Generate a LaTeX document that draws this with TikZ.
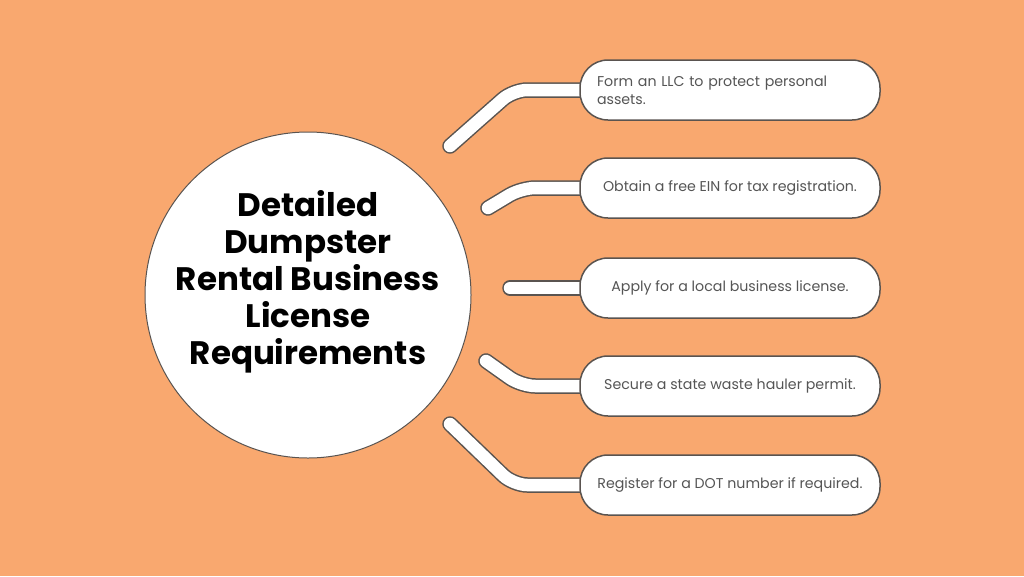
\documentclass[tikz,border=0pt]{standalone}
\usepackage{fontspec}
\setmainfont{Poppins}
\usetikzlibrary{positioning,backgrounds}
\definecolor{bgorange}{HTML}{F9A86F}
\definecolor{edgegray}{HTML}{5A5450}
\definecolor{txtgray}{HTML}{555555}
\begin{document}
\begin{tikzpicture}[x=1pt,y=-1pt,
	pill/.style={draw=edgegray,line width=1.5pt,fill=white,rounded corners=28pt,minimum width=300pt,minimum height=60pt,inner sep=0pt,text=txtgray,font=\fontsize{14.2}{18}\selectfont},
	link/.style={draw=edgegray,line width=1.5pt,double=white,double distance=12.5pt,line cap=round,rounded corners=14pt}]
	\useasboundingbox (0,0) rectangle (1024,576);
	\node[circle,draw=edgegray,line width=1pt,fill=white,minimum size=326pt] (hub) at (308,295) {};
	\node[align=center,font=\fontsize{32.5}{37}\selectfont\bfseries] (title) at ([yshift=13pt]hub.center) {Detailed\\Dumpster\\Rental Business\\License\\Requirements};
	\node[pill,text width=266pt,align=left] (llc) at (730,90) {Form an LLC to protect personal\\assets.};
	\node[pill] (ein) at (730,188) {Obtain a free EIN for tax registration.};
	\node[pill] (local) at (730,288) {Apply for a local business license.};
	\node[pill] (state) at (730,386) {Secure a state waste hauler permit.};
	\node[pill] (dot) at (730,485) {Register for a DOT number if required.};
	\coordinate (c1) at (450,146);
	\coordinate (c2) at (488,208);
	\coordinate (c3) at (510,288);
	\coordinate (c4) at (486,361);
	\coordinate (c5) at (450,424);
	\begin{scope}[on background layer]
	\fill[bgorange] (0,0) rectangle (1024,576);
	\draw[link] (c1) -- ([xshift=-66pt]llc.west) -- (llc.center);
	\draw[link] (c2) -- ([xshift=-58pt]ein.west) -- (ein.center);
	\draw[link] (c3) -- (local.center);
	\draw[link] (c4) -- ([xshift=-58pt]state.west) -- (state.center);
	\draw[link] (c5) -- ([xshift=-66pt]dot.west) -- (dot.center);
	\end{scope}
\end{tikzpicture}
\end{document}
